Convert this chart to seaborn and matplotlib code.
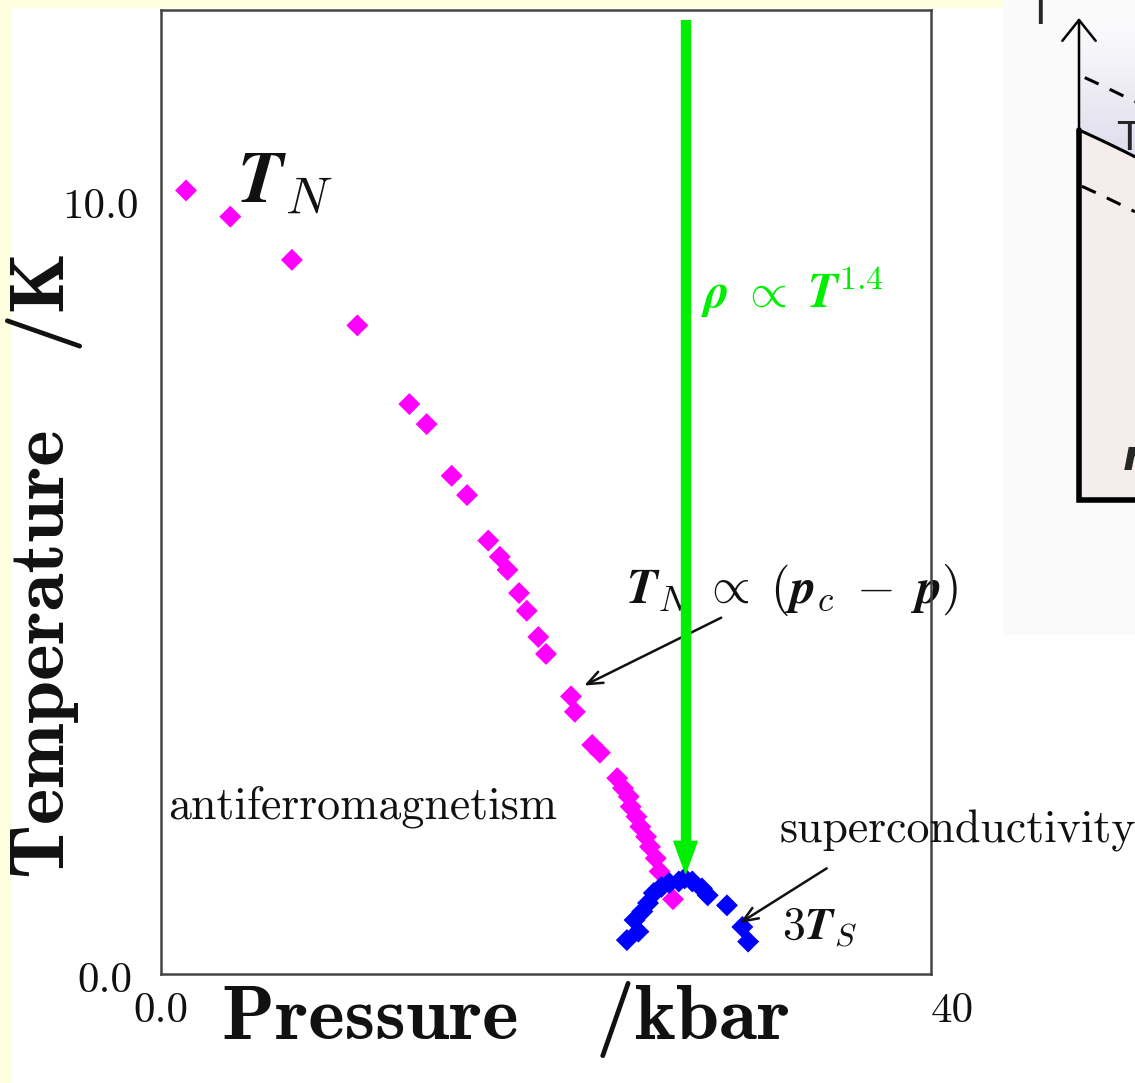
import numpy as np
import pandas as pd
import matplotlib
matplotlib.use("Agg")
import matplotlib.pyplot as plt
import matplotlib.transforms as mtransforms
import seaborn as sns
from matplotlib.patches import Rectangle, Polygon
from matplotlib.colors import LinearSegmentedColormap

# ---------------- data ----------------
tn_pressure = [1.3, 3.6, 6.8, 10.2, 12.9, 13.8, 15.1, 15.9, 17.0, 17.6, 18.0, 18.6, 19.0,
               19.6, 20.0, 21.3, 21.5, 22.4, 22.8, 23.7, 24.0, 24.3, 24.4, 24.7, 24.9,
               25.2, 25.4, 25.7, 25.9, 26.6]
tn_temp = [10.16, 9.82, 9.26, 8.41, 7.39, 7.13, 6.46, 6.21, 5.62, 5.41, 5.24, 4.94, 4.71,
           4.37, 4.15, 3.60, 3.40, 2.97, 2.87, 2.54, 2.41, 2.30, 2.17, 2.04, 1.91,
           1.78, 1.65, 1.50, 1.33, 0.97]
ts_pressure = [24.2, 24.6, 24.8, 25.0, 25.3, 25.6, 26.0, 26.4, 26.9, 27.2, 27.6, 28.1,
               28.4, 29.4, 30.2, 30.5]
ts_temp3 = [0.44, 0.70, 0.55, 0.81, 0.92, 1.05, 1.13, 1.18, 1.20, 1.24, 1.20, 1.11,
            1.02, 0.89, 0.61, 0.42]
series_names = ["T_N", "3T_S"]
series_colors = ["#ff00ff", "#0000ff"]

x_ticks = [0, 10, 20, 30, 40]
x_ticklabels = ["0.0", "", "", "", "40"]
y_ticks = [0, 2.5, 5, 7.5, 10]
y_ticklabels = ["0.0", "", "", "", "10.0"]

rho_pressure = 27.25          # green arrow position
rho_from, rho_to = 12.37, 1.28

df = pd.DataFrame({
    "pressure": tn_pressure + ts_pressure,
    "temperature": tn_temp + ts_temp3,
    "series": [series_names[0]] * len(tn_pressure) + [series_names[1]] * len(ts_pressure),
})

# ---------------- style ----------------
sns.set_theme(style="white")
plt.rcParams["font.family"] = ["cmr10", "DejaVu Serif"]
plt.rcParams["mathtext.fontset"] = "cm"
plt.rcParams["axes.unicode_minus"] = False
plt.rcParams["axes.formatter.use_mathtext"] = True

W, H = 1135, 1083
fig = plt.figure(figsize=(W / 100, H / 100), dpi=100, facecolor="#ffffdf")
# white page area
fig.patches.append(Rectangle((12 / W, 0), (W - 12) / W, 1 - 8 / H,
                             transform=fig.transFigure, color="white", zorder=-10))

ax = fig.add_axes([161 / W, 1 - 974 / H, (931 - 161) / W, (974 - 10) / H])
ax.set_facecolor("white")

sns.scatterplot(data=df, x="pressure", y="temperature", hue="series",
                palette=dict(zip(series_names, series_colors)), marker="D", s=125,
                linewidth=0, legend=False, ax=ax, zorder=3)

ax.set_xlim(0, 40)
ax.set_ylim(0, 12.5)
ax.set_xticks(x_ticks)
ax.set_xticklabels(x_ticklabels)
ax.set_yticks(y_ticks)
ax.set_yticklabels(y_ticklabels)
for lab in ax.get_xticklabels():
    if lab.get_text() == "40":
        lab.set_horizontalalignment("left")
ax.tick_params(axis="x", direction="in", length=14, width=1.5, pad=13,
               labelsize=31, colors="#222222", labelcolor="#111111")
ax.tick_params(axis="y", direction="in", length=20, width=1.5, pad=16,
               labelsize=31, colors="#222222", labelcolor="#111111")
ylabs = ax.get_yticklabels()
ylabs[0].set_transform(ylabs[0].get_transform() +
                       mtransforms.ScaledTranslation(-6 / 100, -3 / 100, fig.dpi_scale_trans))
ax.set_xlabel("")
ax.set_ylabel("")
for sp in ax.spines.values():
    sp.set_color("#444444")
    sp.set_linewidth(1.8)
    sp.set_visible(True)

# axis labels
fig.text(45 / W, 1 - 565 / H, "Temperature   /K", rotation=90, ha="center", va="center",
         fontsize=56, family="cmb10", color="#111111")
fig.text(506 / W, 1 - 1020 / H, "Pressure   /kbar", ha="center", va="center",
         fontsize=56, family="cmb10", color="#111111")

# green arrow
green = "#00ee00"
ax.plot([rho_pressure, rho_pressure], [rho_from, rho_to + 0.35], color=green, lw=7.5,
        solid_capstyle="butt", zorder=4)
ax.annotate("", xy=(rho_pressure, rho_to), xytext=(rho_pressure, rho_to + 0.6),
            arrowprops=dict(arrowstyle="-|>,head_length=1.15,head_width=0.42", color=green,
                            lw=1, mutation_scale=20, shrinkA=0, shrinkB=0), zorder=4)
ax.text(28.07, 8.64, r"$\boldsymbol{\rho}\;\propto\;\boldsymbol{T}^{\mathbf{1.4}}$",
        color=green, fontsize=35, ha="left", va="baseline", zorder=5)

# annotations
ax.text(3.95, 10.01, r"$\boldsymbol{T}_N$", fontsize=53, ha="left", va="baseline", color="#111111")
ax.text(24.17, 4.81,
        r"$\boldsymbol{T}_N\;\propto\;(\boldsymbol{p}_c\;-\;\boldsymbol{p})$",
        fontsize=36, ha="left", va="baseline", color="#111111", clip_on=False, zorder=2)
ax.annotate("", xy=(21.98, 3.74), xytext=(29.1, 4.62),
            arrowprops=dict(arrowstyle="->,head_length=0.55,head_width=0.22", color="#111111",
                            lw=1.8, mutation_scale=20, shrinkA=0, shrinkB=0))
ax.text(0.36, 2.02, "antiferromagnetism", fontsize=33, ha="left", va="baseline", color="#111111")
ax.text(32.14, 1.70, "superconductivity", fontsize=33, ha="left", va="baseline",
        color="#111111", clip_on=False)
ax.text(32.24, 0.44, r"$\mathbf{3}\boldsymbol{T}_S$", fontsize=33, ha="left", va="baseline",
        color="#111111")
ax.annotate("", xy=(30.07, 0.66), xytext=(34.58, 1.37),
            arrowprops=dict(arrowstyle="->,head_length=0.55,head_width=0.22", color="#111111",
                            lw=1.8, mutation_scale=20, shrinkA=0, shrinkB=0))

# ---------------- right-hand schematic (cropped neighbouring figure) ----------------
PB = 635
rp = fig.add_axes([1003 / W, 1 - PB / H, (W - 1003) / W, PB / H])
rp.set_xlim(1003, W)
rp.set_ylim(PB, 0)
rp.axis("off")
rp.add_patch(Rectangle((1003, 0), W - 1003, PB, color="#fafafa", zorder=0))
xs = np.linspace(1079, W, 40)
curve = 130 + (xs - 1079) * 0.45 + (xs - 1079) ** 2 * 0.0005
grad = np.linspace(0, 1, 100)[:, None]
cm_l = LinearSegmentedColormap.from_list("lv", ["#fbfbfd", "#dcdaea"])
im = rp.imshow(grad, extent=(1079, W, 170, 25), cmap=cm_l, aspect="auto", zorder=1)
clip = Polygon(np.vstack([[1079, 25], [W, 25]] + [[x, y] for x, y in zip(xs[::-1], curve[::-1])]),
               closed=True, transform=rp.transData)
im.set_clip_path(clip)
rp.add_patch(Polygon(np.vstack([np.column_stack([xs, curve]), [[W, 500], [1079, 500]]]),
                     closed=True, color="#f5ecec", zorder=1))
rp.plot(xs, curve, color="black", lw=2.2, zorder=3)
rp.plot(xs[4:], curve[4:] - 55, color="black", lw=2.2, ls=(0, (5, 4)), zorder=3)
rp.plot(xs[2:], curve[2:] + 55, color="black", lw=2.2, ls=(0, (5, 4)), zorder=3)
rp.plot([1079, 1079, W], [130, 500, 500], color="black", lw=4, zorder=4,
        solid_joinstyle="miter")
rp.annotate("", xy=(1079, 18), xytext=(1079, 131),
            arrowprops=dict(arrowstyle="->,head_length=0.75,head_width=0.6", color="black",
                            lw=1.8, mutation_scale=20, shrinkA=0, shrinkB=0), zorder=4)
rp.text(1040, 24, "T", fontsize=28, family="DejaVu Sans", ha="center", va="baseline")
rp.text(1117, 150, "T", fontsize=28, family="DejaVu Sans", ha="left", va="baseline")
rp.text(1123, 470, "r", fontsize=30, family="DejaVu Sans", weight="bold", style="italic",
        ha="left", va="baseline")

fig.savefig("out.png", dpi=100, facecolor=fig.get_facecolor())
